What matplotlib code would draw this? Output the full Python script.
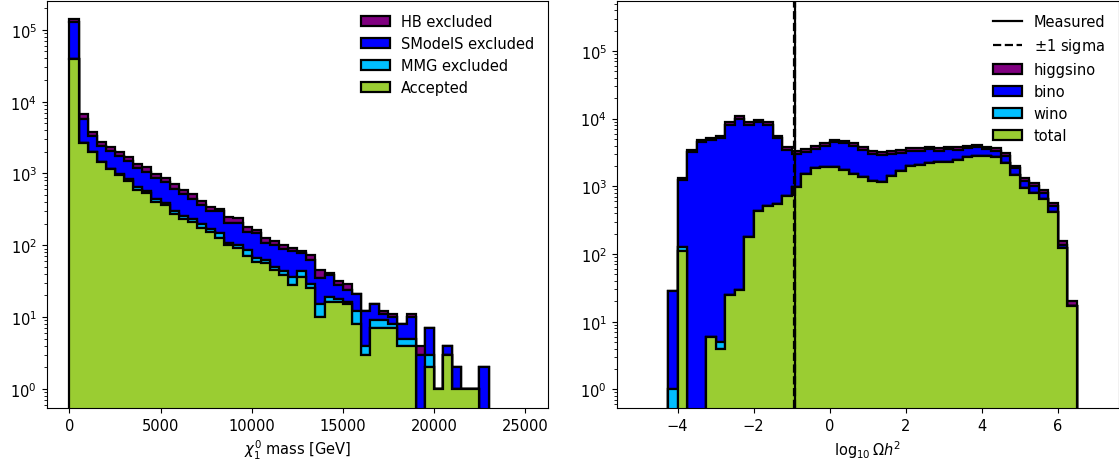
import numpy as np
import matplotlib
matplotlib.use("Agg")
import matplotlib.pyplot as plt

plt.rcParams['font.size'] = 10.5

# neutralino mass histogram, 500 GeV bins from 0 to 25 TeV
mass_edges = np.arange(0, 25001, 500)
accepted = [39000, 2640, 2000, 1430, 1150, 960, 790, 590, 530, 396,
            360, 269, 235, 210, 175, 155, 128, 101, 91, 71,
            59, 57, 45, 38, 28, 36, 25, 10, 16, 16,
            15, 8, 3, 7, 7, 7, 4, 4, 0, 2,
            1, 3, 1, 1, 1, 0, 0, 0, 0, 0]
mmg_excl = [100, 20, 10, 10, 20, 30, 50, 50, 45, 45,
            25, 31, 23, 25, 20, 14, 19, 8, 10, 15,
            8, 5, 5, 6, 8, 8, 4, 5, 3, 2,
            1, 4, 1, 2, 2, 1, 1, 1, 0, 1,
            0, 0, 0, 0, 0, 0, 0, 0, 0, 0]
smodels_excl = [89900, 3140, 1290, 960, 860, 750, 640, 540, 485, 416,
                386, 315, 254, 206, 168, 133, 149, 94, 106, 66,
                83, 45, 51, 46, 46, 33, 33, 20, 19, 10,
                8, 9, 8, 6, 2, 2, 3, 5, 3, 4,
                0, 1, 1, 0, 0, 2, 0, 0, 0, 0]
hb_excl = [15000, 900, 450, 380, 310, 280, 220, 170, 170, 128,
           106, 91, 76, 71, 55, 35, 26, 41, 32, 25,
           14, 18, 12, 10, 9, 6, 10, 10, 3, 4,
           5, 0, 0, 0, 1, 1, 0, 1, 1, 0,
           0, 0, 0, 0, 0, 0, 0, 0, 0, 0]

# relic density histogram, bins of 0.25 in log10(Omega h^2) from -5 to 7
relic_edges = np.arange(-5, 7.001, 0.25)
total = [0, 0, 0, 0, 111, 0, 0, 6, 4, 25,
         29, 177, 425, 504, 545, 724, 984, 1514, 1860, 1900,
         1900, 1740, 1514, 1355, 1207, 1167, 1400, 1694, 2010, 2080,
         2180, 2260, 2305, 2466, 2670, 2830, 2770, 2670, 2180, 1466,
         931, 785, 647, 411, 121, 17, 0, 0]
wino = [0, 0, 0, 1, 14, 0, 0, 0, 1, 0,
        0, 0, 0, 0, 0, 0, 0, 0, 0, 0,
        0, 0, 0, 0, 0, 0, 0, 0, 0, 0,
        0, 0, 0, 0, 0, 0, 0, 0, 0, 0,
        0, 0, 0, 0, 0, 0, 0, 0]
bino = [0, 0, 0, 27, 1111, 3170, 4460, 4794, 5155, 8015,
        9831, 7863, 8385, 7536, 4565, 2706, 2006, 1736, 1690, 2070,
        2560, 2570, 2456, 2075, 1843, 1733, 1600, 1436, 1310, 1240,
        1340, 1090, 1215, 974, 960, 930, 750, 680, 650, 374,
        276, 210, 147, 104, 15, 0, 0, 0]
higgsino = [0, 0, 0, 0, 74, 260, 360, 360, 430, 770,
            940, 770, 830, 770, 480, 330, 290, 300, 340, 340,
            420, 400, 390, 330, 230, 270, 280, 300, 310, 310,
            330, 320, 330, 320, 340, 350, 330, 320, 270, 170,
            103, 109, 85, 49, 20, 3, 0, 0]

omega_meas = 0.120
omega_err = 0.001

colors = ['yellowgreen', 'deepskyblue', 'blue', 'purple']
edge_lw = 1.6

fig = plt.figure(figsize=(11.19, 4.64), dpi=100)
ax1 = fig.add_axes([0.0417, 0.1185, 0.4478, 0.8765])
ax2 = fig.add_axes([0.5511, 0.1185, 0.4485, 0.8775])

# left: stacked mass histogram
centers = 0.5 * (mass_edges[1:] + mass_edges[:-1])
n, b, patches = ax1.hist([centers] * 4, bins=mass_edges,
                         weights=[accepted, mmg_excl, smodels_excl, hb_excl],
                         stacked=True, histtype='stepfilled', log=True,
                         color=colors, edgecolor='black', linewidth=edge_lw,
                         label=['Accepted', 'MMG excluded', 'SModelS excluded', 'HB excluded'])
ax1.set_ylim(0.54, 2.5e5)
ax1.set_xlabel(r'$\chi_1^0$ mass [GeV]')
handles = [p[0] for p in patches][::-1]
ax1.legend(handles=handles, loc='upper right', frameon=False, labelspacing=0.48)

# right: stacked relic density histogram with the measured value
l1 = ax2.axvline(np.log10(omega_meas), color='black', linewidth=edge_lw, label='Measured')
l2 = ax2.axvline(np.log10(omega_meas + omega_err), color='black', linestyle='--',
                 linewidth=edge_lw, label=r'$\pm$1 sigma')
ax2.axvline(np.log10(omega_meas - omega_err), color='black', linestyle='--', linewidth=edge_lw)
centers = 0.5 * (relic_edges[1:] + relic_edges[:-1])
n, b, patches = ax2.hist([centers] * 4, bins=relic_edges,
                         weights=[total, wino, bino, higgsino],
                         stacked=True, histtype='stepfilled', log=True,
                         color=colors, edgecolor='black', linewidth=edge_lw,
                         label=['total', 'wino', 'bino', 'higgsino'])
ax2.set_ylim(0.53, 5.5e5)
ax2.set_xlabel(r'$\log_{10}\Omega h^2$')
handles = [l1, l2] + [p[0] for p in patches][::-1]
ax2.legend(handles=handles, loc='upper right', frameon=False, labelspacing=0.48)

fig.savefig('out.png', dpi=100)
